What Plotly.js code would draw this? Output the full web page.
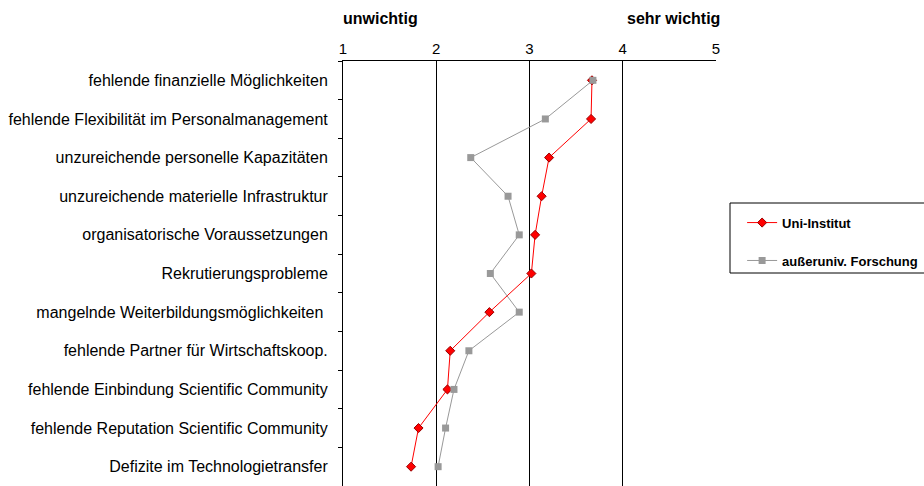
<!DOCTYPE html>
<html>
<head>
<meta charset="utf-8">
<script src="https://cdn.plot.ly/plotly-3.0.1.min.js"></script>
<style>html,body{margin:0;padding:0;background:#fff;}#chart{width:924px;height:486px;}</style>
</head>
<body>
<div id="chart"></div>
<script>
var categories = [
  "fehlende finanzielle Möglichkeiten",
  "fehlende Flexibilität im Personalmanagement",
  "unzureichende personelle Kapazitäten",
  "unzureichende materielle Infrastruktur",
  "organisatorische Voraussetzungen",
  "Rekrutierungsprobleme",
  "mangelnde Weiterbildungsmöglichkeiten ",
  "fehlende Partner für Wirtschaftskoop.",
  "fehlende Einbindung Scientific Community",
  "fehlende Reputation Scientific Community",
  "Defizite im Technologietransfer"
];
var uniInstitut = [3.67, 3.66, 3.21, 3.13, 3.06, 3.02, 2.57, 2.15, 2.12, 1.81, 1.73];
var ausseruniv = [3.68, 3.17, 2.37, 2.77, 2.89, 2.58, 2.89, 2.35, 2.19, 2.10, 2.02];
var seriesNames = ["Uni-Institut", "außeruniv. Forschung"];
var xTicks = [1, 2, 3, 4, 5];
var scaleLabels = ["unwichtig", "sehr wichtig"];

var font = "Liberation Sans, Arial, sans-serif";

var traces = [
  {
    x: uniInstitut, y: categories, type: "scatter", mode: "lines+markers",
    name: seriesNames[0], legendgroup: "a",
    line: {color: "#ff0000", width: 1},
    marker: {symbol: "diamond", size: 7, color: "#ff0000", line: {color: "#990000", width: 1}}
  },
  {
    x: ausseruniv, y: categories, type: "scatter", mode: "lines+markers",
    name: seriesNames[1], legendgroup: "b",
    line: {color: "#999999", width: 1},
    marker: {symbol: "square", size: 7, color: "#999999", line: {width: 0}}
  }
];

var layout = {
  width: 924, height: 486,
  margin: {l: 343, r: 208, t: 61, b: 0, pad: 0},
  paper_bgcolor: "#ffffff", plot_bgcolor: "#ffffff",
  font: {family: font, size: 16, color: "#000"},
  showlegend: true,
  legend: {
    x: 1.07, y: 0.655, xanchor: "left", yanchor: "top",
    borderwidth: 0, bgcolor: "rgba(0,0,0,0)",
    font: {family: font, size: 13, color: "#000", weight: "bold"},
    traceorder: "grouped", tracegroupgap: 18, itemwidth: 30
  },
  shapes: [
    {type: "rect", xref: "paper", yref: "paper",
     x0: (730 - 343) / 373, x1: (930 - 343) / 373,
     y0: 1 - (273 - 61) / 425, y1: 1 - (203 - 61) / 425,
     line: {color: "#000", width: 1}, fillcolor: "rgba(0,0,0,0)", layer: "below"}
  ],
  xaxis: {
    side: "top", range: [1, 5], tickvals: xTicks, ticktext: xTicks.map(String),
    ticks: "inside", ticklen: 9, tickcolor: "#000", tickwidth: 1,
    showline: true, linecolor: "#000", linewidth: 1,
    showgrid: true, gridcolor: "#000", gridwidth: 1, zeroline: false,
    tickfont: {family: font, size: 15, color: "#000"}, fixedrange: true
  },
  yaxis: {
    type: "category", categoryorder: "array", categoryarray: categories,
    range: [10.5, -0.5], tickson: "boundaries", ticks: "outside", ticklen: 4,
    tickcolor: "#000", showline: true, linecolor: "#000", linewidth: 1,
    showgrid: false, zeroline: false, ticklabelstandoff: 11,
    tickfont: {family: font, size: 16, color: "#000"}, fixedrange: true
  },
  annotations: [
    {xref: "x", yref: "paper", x: 1, y: 1, yshift: 43, xshift: -2, xanchor: "left", yanchor: "middle",
     text: "<b>" + scaleLabels[0] + "</b>", showarrow: false, font: {family: font, size: 16, color: "#000"}},
    {xref: "x", yref: "paper", x: 5, y: 1, yshift: 43, xshift: 6, xanchor: "right", yanchor: "middle",
     text: "<b>" + scaleLabels[1] + "</b>", showarrow: false, font: {family: font, size: 16, color: "#000"}}
  ]
};

Plotly.newPlot("chart", traces, layout, {displayModeBar: false, staticPlot: true});
</script>
</body>
</html>
